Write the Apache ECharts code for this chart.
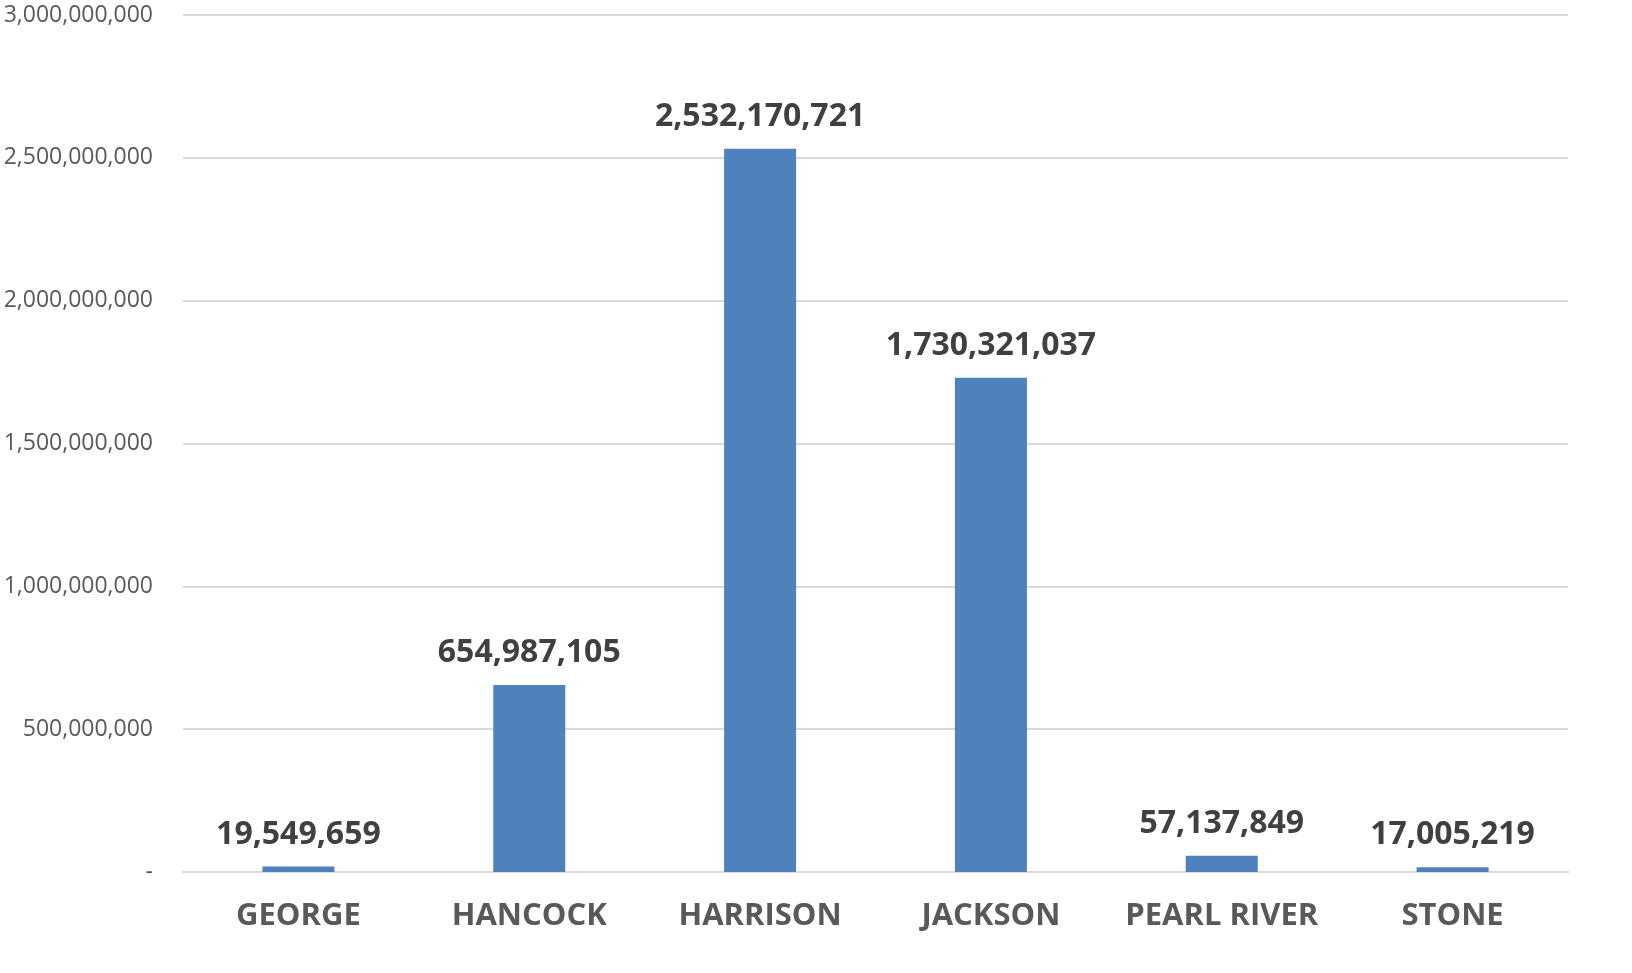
<!DOCTYPE html>
<html><head><meta charset="utf-8">
<script src="https://cdn.jsdelivr.net/npm/echarts@6/dist/echarts.min.js"></script>
<style>html,body{margin:0;padding:0;background:#fff}#c{width:1632px;height:973px}</style>
</head><body><div id="c"></div>
<script>
const categories = ['GEORGE','HANCOCK','HARRISON','JACKSON','PEARL RIVER','STONE'];
const values = [19549659, 654987105, 2532170721, 1730321037, 57137849, 17005219];
const yMin = 0, yMax = 3000000000, yInterval = 500000000;

const fmt = v => v === 0 ? '-' : v.toLocaleString('en-US');
const chart = echarts.init(document.getElementById('c'));
chart.setOption({
  animation: false,
  grid: {left: 183, right: 64, top: 15, bottom: 101},
  xAxis: {
    type: 'category', data: categories,
    axisLine: {show: true, lineStyle: {color: '#d9d9d9', width: 2}},
    axisTick: {show: false},
    axisLabel: {interval: 0, hideOverlap: false, color: '#595959', fontFamily: 'Open Sans', fontWeight: 'bold', fontSize: 31, margin: 29}
  },
  yAxis: {
    type: 'value', min: yMin, max: yMax, interval: yInterval,
    axisLine: {show: false}, axisTick: {show: false},
    splitLine: {lineStyle: {color: '#d9d9d9', width: 2}},
    axisLabel: {color: '#595959', fontFamily: 'Open Sans', fontSize: 23, margin: 30, formatter: fmt}
  },
  series: [{
    type: 'bar', data: values, barWidth: 72,
    itemStyle: {color: '#4f81bd'},
    label: {show: true, position: 'top', distance: 16, color: '#404040', fontFamily: 'Open Sans', fontWeight: 'bold', fontSize: 32,
      formatter: p => p.value.toLocaleString('en-US')}
  }]
});
</script></body></html>
